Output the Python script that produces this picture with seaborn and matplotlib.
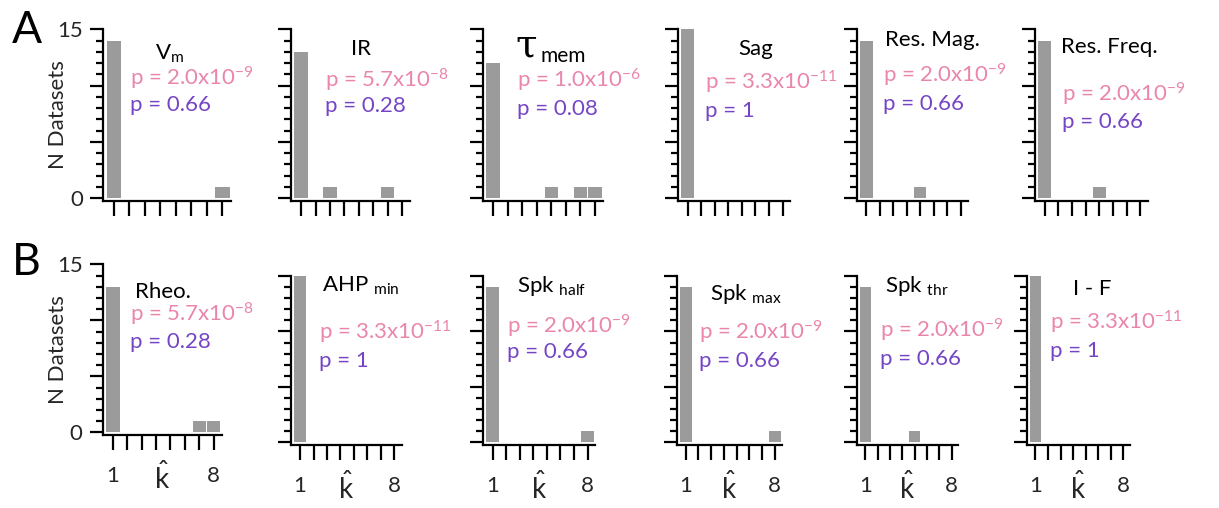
import matplotlib
matplotlib.use("Agg")
import matplotlib.pyplot as plt
import seaborn as sns
import pandas as pd
from matplotlib.ticker import MultipleLocator, FixedLocator

sns.set_style("ticks")
plt.rcParams["font.family"] = ["Lato", "DejaVu Sans"]
plt.rcParams["mathtext.fontset"] = "custom"
plt.rcParams["mathtext.rm"] = "Lato"
plt.rcParams["mathtext.it"] = "Lato:italic"
plt.rcParams["mathtext.bf"] = "Lato:bold"

# ---------------- data ----------------
k_values = [1, 2, 3, 4, 5, 6, 7, 8]

counts_Vm       = [14, 0, 0, 0, 0, 0, 0, 1]
counts_IR       = [13, 0, 1, 0, 0, 0, 1, 0]
counts_tau      = [12, 0, 0, 0, 1, 0, 1, 1]
counts_Sag      = [15, 0, 0, 0, 0, 0, 0, 0]
counts_ResMag   = [14, 0, 0, 0, 1, 0, 0, 0]
counts_ResFreq  = [14, 0, 0, 0, 1, 0, 0, 0]
counts_Rheo     = [13, 0, 0, 0, 0, 0, 1, 1]
counts_AHP      = [15, 0, 0, 0, 0, 0, 0, 0]
counts_SpkHalf  = [14, 0, 0, 0, 0, 0, 0, 1]
counts_SpkMax   = [14, 0, 0, 0, 0, 0, 0, 1]
counts_SpkThr   = [14, 0, 0, 0, 1, 0, 0, 0]
counts_IF       = [15, 0, 0, 0, 0, 0, 0, 0]

titles = ["V$_{\\mathregular{m}}$", "IR", "TAU", "Sag", "Res. Mag.", "Res. Freq.",
          "Rheo.", "AHP $_{\\mathregular{min}}$", "Spk $_{\\mathregular{half}}$",
          "Spk $_{\\mathregular{max}}$", "Spk $_{\\mathregular{thr}}$", "I - F"]

p_first = ["p = 2.0x10$^{\\mathregular{-9}}$", "p = 5.7x10$^{\\mathregular{-8}}$",
           "p = 1.0x10$^{\\mathregular{-6}}$", "p = 3.3x10$^{\\mathregular{-11}}$",
           "p = 2.0x10$^{\\mathregular{-9}}$", "p = 2.0x10$^{\\mathregular{-9}}$",
           "p = 5.7x10$^{\\mathregular{-8}}$", "p = 3.3x10$^{\\mathregular{-11}}$",
           "p = 2.0x10$^{\\mathregular{-9}}$", "p = 2.0x10$^{\\mathregular{-9}}$",
           "p = 2.0x10$^{\\mathregular{-9}}$", "p = 3.3x10$^{\\mathregular{-11}}$"]
p_second = ["p = 0.66", "p = 0.28", "p = 0.08", "p = 1", "p = 0.66", "p = 0.66",
            "p = 0.28", "p = 1", "p = 0.66", "p = 0.66", "p = 0.66", "p = 1"]

all_counts = [counts_Vm, counts_IR, counts_tau, counts_Sag, counts_ResMag, counts_ResFreq,
              counts_Rheo, counts_AHP, counts_SpkHalf, counts_SpkMax, counts_SpkThr, counts_IF]

y_tick_labels = ["0", "", "", "15"]
x_tick_labels = ["1", "", "", "", "", "", "", "8"]

# ---------------- layout (pixels) ----------------
W, H = 1219, 508
# (left spine x, right end x, top(15) y, bottom spine y)
boxes = [
    (103, 231, 29.3, 200.7), (291, 410, 29.3, 200.7), (483, 603, 29.3, 200.7),
    (678, 790, 29.3, 200.7), (857, 968, 29.3, 200.7), (1035, 1148, 29.3, 200.7),
    (102.7, 221.7, 264.3, 435), (290.7, 401.7, 276, 445), (483, 595, 276, 445),
    (676.7, 781.7, 276, 445), (856.7, 958.3, 276, 445), (1026.7, 1130, 276, 445),
]
# title (left x, baseline y), pink (left x, baseline), purple baseline
title_pos = [(155, 60), (351, 55), (515, 56), (738, 55), (885, 46), (1061, 53),
             (135, 298), (322, 292), (517, 292), (710, 300), (885, 292), (1073, 295)]
pink_pos = [(130, 85), (325, 87), (517, 88), (705, 90), (883, 83), (1062, 102),
            (130, 322), (319, 340), (507, 333), (699, 340), (880, 338), (1050, 330)]
purple_base = [111, 112, 115, 117, 110, 128, 348, 367, 358, 367, 365, 357]

PINK = "#ea86ad"
PURPLE = "#7645c6"
GRAY = "#9b9b9b"

fig = plt.figure(figsize=(W / 100, H / 100), dpi=100)

def fx(x):
    return x / W

def fy(y):
    return 1 - y / H

for i, (counts, box) in enumerate(zip(all_counts, boxes)):
    l, r, t, b = box
    ax = fig.add_axes([fx(l), fy(b), (r - l) / W, (b - t) / H])
    df = pd.DataFrame({"k": k_values, "n": counts})
    sns.barplot(data=df, x="k", y="n", native_scale=True, width=0.93, color=GRAY,
                saturation=1, edgecolor="none", linewidth=0, ax=ax)
    ax.set_xlim(0.3, 8.55)
    ax.set_ylim(-0.24, 15)
    sns.despine(ax=ax)
    for s in ("left", "bottom"):
        ax.spines[s].set_linewidth(1.6)
        ax.spines[s].set_color("black")
    ax.yaxis.set_major_locator(FixedLocator([0, 5, 10, 15]))
    ax.yaxis.set_minor_locator(MultipleLocator(1))
    ax.set_xticks(k_values)
    ax.tick_params(axis="y", which="major", length=9.5, width=1.6, direction="out",
                   labelsize=16, pad=5, color="black")
    ax.tick_params(axis="y", which="minor", length=5, width=1.6, direction="out", color="black")
    ax.tick_params(axis="x", which="major", length=11, width=1.6, direction="out",
                   labelsize=16, pad=11, color="black")
    col = i % 6
    row = i // 6
    height_px = b - t
    width_px = r - l
    if col == 0:
        ax.set_yticklabels(y_tick_labels)
        ax.set_ylabel("N Datasets", fontsize=16)
        ax.yaxis.set_label_coords((68 - l) / width_px, 0.5)
    else:
        ax.set_yticklabels([])
        ax.set_ylabel("")
    if row == 1:
        ax.set_xticklabels(x_tick_labels)
        ax.set_xlabel(r"$\hat{\mathregular{k}}$", fontsize=20)
        ax.xaxis.set_label_coords(0.5, -(462 - 435) / height_px)
        ax.xaxis.label.set_va("top")
    else:
        ax.set_xticklabels([])
        ax.set_xlabel("")

    tx, ty = title_pos[i]
    if titles[i] == "TAU":
        fig.text(fx(tx), fy(ty), "\u03c4", fontsize=28, family="DejaVu Serif",
                 ha="left", va="baseline", color="black")
        fig.text(fx(541), fy(62), "mem", fontsize=15, ha="left",
                 va="baseline", color="black")
    else:
        fig.text(fx(tx), fy(ty), titles[i], fontsize=16, ha="left", va="baseline",
                 color="black")
    px, py = pink_pos[i]
    fig.text(fx(px), fy(py), p_first[i], fontsize=16, ha="left", va="baseline", color=PINK)
    fig.text(fx(px), fy(purple_base[i]), p_second[i], fontsize=16, ha="left",
             va="baseline", color=PURPLE)

fig.text(fx(12), fy(43), "A", fontsize=32, ha="left", va="baseline", color="black")
fig.text(fx(12), fy(275), "B", fontsize=32, ha="left", va="baseline", color="black")

fig.savefig("out.png", dpi=100, facecolor="white")
